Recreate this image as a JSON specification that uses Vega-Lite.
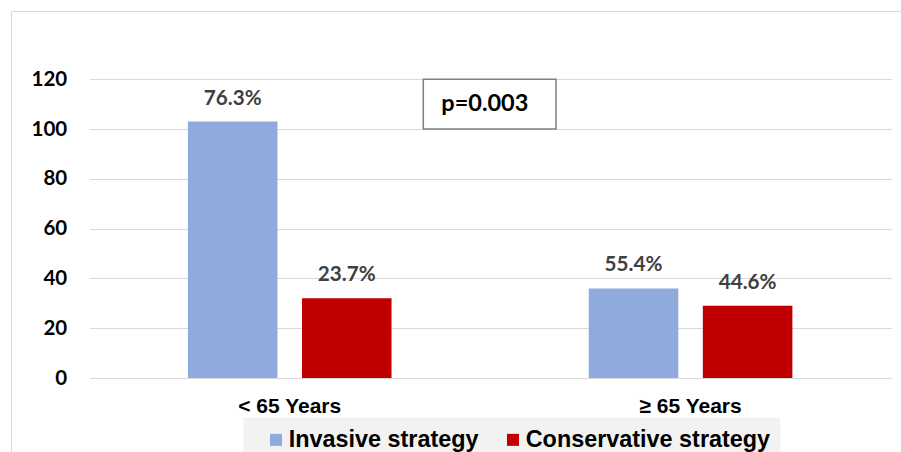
{
  "$schema": "https://vega.github.io/schema/vega-lite/v6.json",
  "width": 891,
  "height": 442,
  "autosize": {"type": "none"},
  "padding": {"left": 11, "top": 11, "right": 0, "bottom": 0},
  "background": "white",
  "config": {
    "view": {"stroke": "#d9d9d9", "strokeWidth": 1},
    "axis": {"domain": false, "ticks": false}
  },
  "layer": [
    {
      "data": {
        "values": [
          {"age": "< 65 Years", "strategy": "Invasive strategy", "count": 103, "pct": 0.763},
          {"age": "< 65 Years", "strategy": "Conservative strategy", "count": 32, "pct": 0.237},
          {"age": "≥ 65 Years", "strategy": "Invasive strategy", "count": 36, "pct": 0.554},
          {"age": "≥ 65 Years", "strategy": "Conservative strategy", "count": 29, "pct": 0.446}
        ]
      },
      "encoding": {
        "x": {
          "field": "age",
          "type": "nominal",
          "sort": ["< 65 Years", "≥ 65 Years"],
          "scale": {"range": [78.3, 880], "paddingInner": 0.492, "paddingOuter": 0.246},
          "axis": {
            "title": null,
            "orient": "bottom",
            "offset": -75,
            "labelPadding": 17,
            "labelAngle": 0,
            "labelFont": "Liberation Sans",
            "labelFontWeight": "bold",
            "labelFontSize": 21,
            "labelColor": "#000000",
            "grid": false
          }
        },
        "xOffset": {
          "field": "strategy",
          "type": "nominal",
          "sort": ["Invasive strategy", "Conservative strategy"],
          "scale": {"paddingInner": 0.215, "paddingOuter": 0}
        },
        "y": {
          "field": "count",
          "type": "quantitative",
          "scale": {"domain": [0, 120], "range": [367, 68.3], "nice": false},
          "axis": {
            "title": null,
            "orient": "left",
            "offset": -78.3,
            "values": [0, 20, 40, 60, 80, 100, 120],
            "grid": true,
            "gridColor": "#d9d9d9",
            "gridWidth": 1,
            "labelPadding": 22.6,
            "labelFont": "Lato",
            "labelFontWeight": "bold",
            "labelFontSize": 20.5,
            "labelColor": "#000000"
          }
        }
      },
      "layer": [
        {
          "mark": {"type": "bar"},
          "encoding": {
            "color": {
              "field": "strategy",
              "type": "nominal",
              "sort": ["Invasive strategy", "Conservative strategy"],
              "scale": {
                "domain": ["Invasive strategy", "Conservative strategy"],
                "range": ["#8faadc", "#c00000"]
              },
              "legend": {
                "orient": "none",
                "legendX": 232.3,
                "legendY": 406.7,
                "direction": "horizontal",
                "title": null,
                "fillColor": "#f2f2f2",
                "padding": 10,
                "symbolType": "square",
                "symbolSize": 144,
                "symbolStrokeWidth": 0,
                "symbolOffset": 11,
                "labelOffset": 1,
                "columnPadding": 11,
                "labelFont": "Liberation Sans",
                "labelFontWeight": "bold",
                "labelFontSize": 23.4,
                "labelColor": "#000000",
                "labelLimit": 400
              }
            }
          }
        },
        {
          "mark": {
            "type": "text",
            "dy": -17,
            "baseline": "alphabetic",
            "font": "Lato",
            "fontWeight": "bold",
            "fontSize": 20.7,
            "color": "#404040"
          },
          "encoding": {
            "text": {"field": "pct", "type": "quantitative", "format": ".1%"}
          }
        }
      ]
    },
    {
      "data": {
        "values": [
          {"note": "p=0.003", "x0": 0.4166, "x1": 0.5821, "y0": 100, "y1": 120, "ty": 110}
        ]
      },
      "layer": [
        {
          "mark": {"type": "rect", "fill": "white", "stroke": "#7f7f7f", "strokeWidth": 1.5},
          "encoding": {
            "x": {
              "field": "x0",
              "type": "quantitative",
              "scale": {"domain": [0, 1], "range": [78.3, 880]},
              "axis": null
            },
            "x2": {"field": "x1"},
            "y": {"field": "y0", "type": "quantitative", "title": null},
            "y2": {"field": "y1"}
          }
        },
        {
          "mark": {
            "type": "text",
            "align": "left",
            "baseline": "middle",
            "dx": 18,
            "font": "Lato",
            "fontWeight": "bold",
            "fontSize": 23.5,
            "color": "#000000"
          },
          "encoding": {
            "x": {"field": "x0", "type": "quantitative", "axis": null},
            "y": {"field": "ty", "type": "quantitative", "title": null},
            "text": {"field": "note", "type": "nominal"}
          }
        }
      ]
    }
  ],
  "resolve": {"scale": {"x": "independent"}}
}
